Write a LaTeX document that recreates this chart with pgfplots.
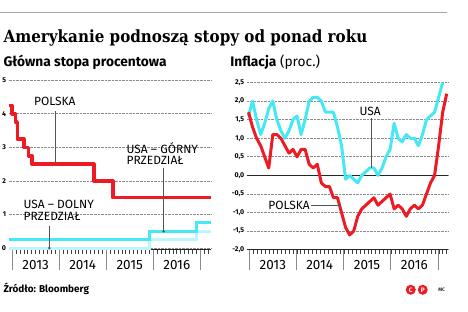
\documentclass[border=0pt]{standalone}
\usepackage{fontspec}
\setmainfont{Fira Sans}
\newfontfamily\titlefont{DejaVu Serif Condensed}
\usepackage{pgfplots}
\pgfplotsset{compat=1.18}
\definecolor{pred}{HTML}{ED1C24}
\definecolor{ucyan}{HTML}{45E8F4}
\definecolor{upale}{HTML}{BDF6FA}
\definecolor{gridg}{HTML}{8C8C8C}
\definecolor{lead}{HTML}{555555}
\tikzset{lab/.style={font=\fontsize{12}{14}\selectfont, inner sep=0pt}}
\begin{document}
\begin{tikzpicture}[x=1bp,y=1bp]
\path (0,0) rectangle (468,312);
\draw[gray!70, line width=0.8bp] (0,300) -- (447,300);
\node[anchor=base west, inner sep=0, font=\titlefont\bfseries\fontsize{16.9}{19}\selectfont] at (3,269.7) {Amerykanie podnoszą stopy od ponad roku};
\node[anchor=base west, inner sep=0, font=\bfseries\fontsize{13.8}{15}\selectfont] at (3,245.3) {Główna stopa procentowa};
\node[anchor=base west, inner sep=0, font=\fontsize{13.8}{15}\selectfont] at (230,245.3) {\textbf{Inflacja} (proc.)};
\pgfplotsset{
  panel/.style={
    scale only axis,
    axis line style={draw=none},
    tick align=outside,
    xtick pos=bottom, ytick pos=left,
    major tick length=0pt,
    minor tick length=4bp,
    minor tick style={black!75, line width=0.6bp},
    ymajorgrids,
    grid style={gridg, densely dotted, line width=0.7bp},
    yticklabel style={font=\bfseries\fontsize{7}{8}\selectfont, inner sep=0pt, xshift=-2.5bp},
    xticklabel style={font=\fontsize{13.5}{15}\selectfont, inner sep=0pt, anchor=north, yshift=-10bp},
    /pgf/number format/assume math mode=true,
    extra x tick style={major tick length=20bp, major tick style={gridg, line width=0.9bp}},
    clip=false,
  },
}
% ---------- left panel ----------
\begin{axis}[panel, at={(8.3bp,62bp)}, anchor=south west, width=202.4bp, height=171.4bp,
  xmin=2012.928, xmax=2017.225, ymin=-0.05, ymax=5.05,
  ytick={0,1,2,3,4,5},
  xtick={2013.5,2014.5,2015.5,2016.5}, xticklabels={2013,2014,2015,2016},
  minor xtick={2013,2013.08333,...,2017.2},
  extra x ticks={2013,2014,2015,2016,2017}, extra x tick labels={,,,,}]
\draw[black!85, line width=0.9bp] (rel axis cs:0,0) -- (rel axis cs:1,0);
\addplot[upale, line width=3bp, const plot] coordinates {(2012.928,0) (2015.93,0.25) (2016.92,0.5) (2017.225,0.5)};
\addplot[ucyan, line width=3bp, const plot] coordinates {(2012.928,0.25) (2015.93,0.5) (2016.92,0.75) (2017.225,0.75)};
\addplot[pred, line width=3.5bp, const plot, line join=round] coordinates {(2012.928,4.25) (2013.0,4.0) (2013.07,3.75) (2013.11,3.25) (2013.25,3.0) (2013.35,2.75) (2013.42,2.5) (2014.74,2.0) (2015.14,1.5) (2017.225,1.5)};
\draw[lead, line width=0.8bp] (axis cs:2013.92,4.08) -- (axis cs:2013.92,2.5);
\node[lab, anchor=base] at (axis cs:2013.91,4.24) {POLSKA};
\node[lab, anchor=base west] at (axis cs:2015.43,2.83) {USA – GÓRNY};
\node[lab, anchor=base west] at (axis cs:2015.43,2.49) {PRZEDZIAŁ};
\draw[lead, line width=0.8bp] (axis cs:2016.22,2.39) -- (axis cs:2016.22,0.5);
\fill[lead] (axis cs:2016.22,0.5) circle (1.4bp);
\node[lab, anchor=base west] at (axis cs:2013.24,1.17) {USA – DOLNY};
\node[lab, anchor=base west] at (axis cs:2013.24,0.82) {PRZEDZIAŁ};
\draw[lead, line width=0.8bp] (axis cs:2013.79,0.66) -- (axis cs:2013.79,0);
\fill[lead] (axis cs:2013.79,0) circle (1.4bp);
\end{axis}
% ---------- right panel ----------
\begin{axis}[panel, at={(246.7bp,62bp)}, anchor=south west, width=201bp, height=169.3bp,
  xmin=-0.4, xmax=49.25, ymin=-2, ymax=2.55,
  ytick={-2,-1.5,-1,-0.5,0,0.5,1,1.5,2,2.5},
  /pgf/number format/.cd, fixed, fixed zerofill, precision=1, use comma, /pgfplots/.cd,
  xtick={6.0,17.6,29.3,41.0}, xticklabels={2013,2014,2015,2016},
  minor xtick={0.25,1.225,...,49.1},
  extra x ticks={0.25,11.78,23.46,35.16,46.92}, extra x tick labels={,,,,},
  extra y ticks={0}, extra y tick labels={},
  extra y tick style={ymajorgrids=true, major grid style={black!85, solid, line width=1.6bp}}]
\draw[black!85, line width=0.9bp] (rel axis cs:0,0) -- (rel axis cs:1,0);
\addplot[ucyan, line width=3bp, line join=round] coordinates {
(0,1.6)(1,2.0)(2,1.5)(3,1.1)(4,1.4)(5,1.8)(6,2.0)(7,1.5)(8,1.2)(9,1.0)(10,1.2)(11,1.5)
(12,1.6)(13,1.1)(14,1.5)(15,2.0)(16,2.1)(17,2.1)(18,2.0)(19,1.7)(20,1.7)(21,1.7)(22,1.3)(23,0.8)
(24,-0.1)(25,0.0)(26,-0.1)(27,-0.2)(28,0.0)(29,0.1)(30,0.2)(31,0.2)(32,0.0)(33,0.2)(34,0.5)(35,0.7)
(36,1.4)(37,1.0)(38,0.9)(39,1.1)(40,1.0)(41,1.0)(42,0.8)(43,1.1)(44,1.5)(45,1.6)(46,1.7)(47,2.1)
(48,2.5)};
\addplot[pred, line width=3bp, line join=round] coordinates {
(0,1.7)(1,1.3)(2,1.0)(3,0.8)(4,0.5)(5,0.2)(6,1.1)(7,1.1)(8,1.0)(9,0.8)(10,0.6)(11,0.7)
(12,0.5)(13,0.7)(14,0.7)(15,0.3)(16,0.2)(17,0.3)(18,-0.2)(19,-0.3)(20,-0.3)(21,-0.6)(22,-0.6)(23,-1.0)
(24,-1.4)(25,-1.6)(26,-1.5)(27,-1.1)(28,-0.9)(29,-0.8)(30,-0.7)(31,-0.6)(32,-0.8)(33,-0.7)(34,-0.6)(35,-0.5)
(36,-0.9)(37,-0.8)(38,-0.9)(39,-1.1)(40,-0.9)(41,-0.8)(42,-0.9)(43,-0.8)(44,-0.5)(45,-0.2)(46,0.0)(47,0.8)
(48,1.7)(49,2.2)};
\node[lab, anchor=base] at (axis cs:30.06,1.60) {USA};
\draw[lead, line width=0.8bp] (axis cs:30.3,1.54) -- (axis cs:30.3,0.2);
\node[lab, anchor=base east] at (axis cs:15.2,-0.91) {POLSKA};
\draw[lead, line width=0.8bp] (axis cs:15.4,-0.8) -- (axis cs:22.5,-0.8);
\fill[lead] (axis cs:22.5,-0.8) circle (1.4bp);
\end{axis}
% ---------- footer ----------
\node[anchor=base west, inner sep=0, font=\bfseries\fontsize{10}{11}\selectfont] at (3,19) {Źródło: Bloomberg};
\fill[pred] (410.7,22) circle (5bp);
\fill[pred] (422.7,22) circle (5bp);
\node[white, inner sep=0, font=\bfseries\fontsize{6.5}{7}\selectfont] at (410.7,22) {C};
\node[white, inner sep=0, font=\bfseries\fontsize{6.5}{7}\selectfont] at (422.7,22) {P};
\node[inner sep=0, font=\bfseries\fontsize{5}{6}\selectfont, black!80] at (441.7,22) {MC};
\end{tikzpicture}
\end{document}
